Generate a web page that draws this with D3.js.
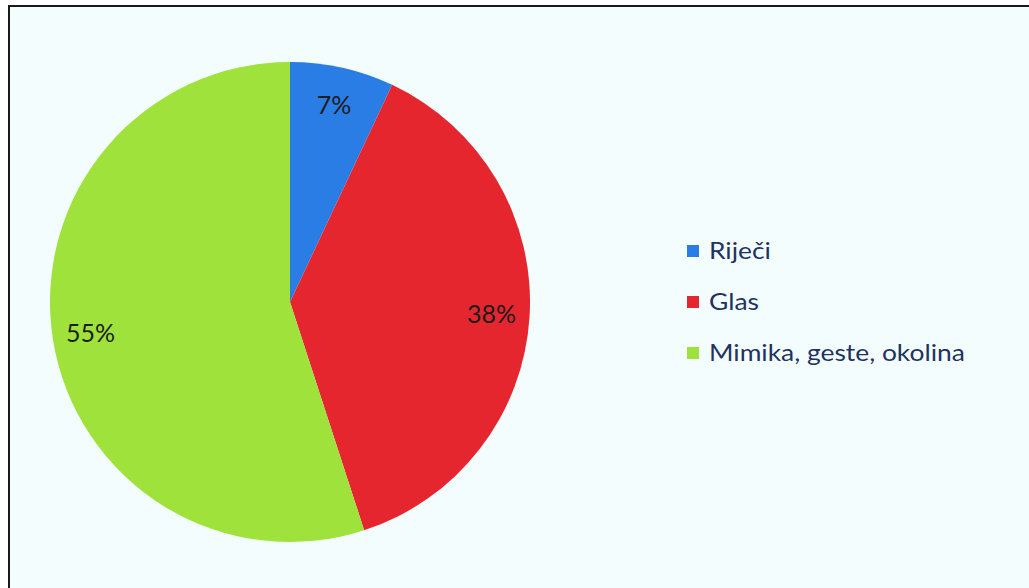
<!DOCTYPE html>
<html>
<head>
<meta charset="utf-8">
<script src="https://cdn.jsdelivr.net/npm/d3@7"></script>
<style>
  html, body { margin: 0; padding: 0; background: #ffffff; }
  svg { display: block; }
</style>
</head>
<body>
<div id="chart"></div>
<script>
let categories = ['Riječi', 'Glas', 'Mimika, geste, okolina']
let values = [7, 38, 55]
let colors = ['#2b7de6', '#e5262f', '#9ee23b']

let width = 1029
let height = 588

let svg = d3
  .select('#chart')
  .append('svg')
  .attr('width', width)
  .attr('height', height)

// chart area with border running off the right and bottom
svg
  .append('rect')
  .attr('x', 9)
  .attr('y', 6)
  .attr('width', width + 20)
  .attr('height', height + 20)
  .attr('fill', '#f4fdfe')
  .attr('stroke', '#1a1a1a')
  .attr('stroke-width', 2)

let radius = 240
let cx = 290
let cy = 302

let pie = d3.pie().sort(null).value(d => d)
let arcs = pie(values)

let arc = d3.arc().innerRadius(0).outerRadius(radius)
let labelArc = d3.arc().innerRadius(202).outerRadius(202)

let g = svg.append('g').attr('transform', `translate(${cx},${cy})`)

g.selectAll('.slice')
  .data(arcs)
  .enter()
  .append('path')
  .attr('class', 'slice')
  .attr('d', arc)
  .attr('fill', (d, i) => colors[i])

g.selectAll('.label')
  .data(arcs)
  .enter()
  .append('text')
  .attr('class', 'label')
  .attr('transform', d => `translate(${labelArc.centroid(d)})`)
  .attr('text-anchor', 'middle')
  .attr('dy', '0.35em')
  .attr('font-family', 'Lato, "Open Sans", sans-serif')
  .attr('font-size', 25)
  .attr('fill', '#1c1c1c')
  .text(d => d.data + '%')

// legend
let legendY = d3.scalePoint().domain(categories).range([251, 353])

let legend = svg
  .append('g')
  .selectAll('.legend')
  .data(categories)
  .enter()
  .append('g')
  .attr('class', 'legend')
  .attr('transform', d => `translate(687,${legendY(d)})`)

legend
  .append('rect')
  .attr('x', 0)
  .attr('y', -6)
  .attr('width', 12)
  .attr('height', 12)
  .attr('fill', (d, i) => colors[i])

// the legend text in the picture is a little stretched sideways
legend
  .append('text')
  .attr('transform', 'translate(22,0) scale(1.1,1)')
  .attr('dy', '0.35em')
  .attr('font-family', 'Lato, "Open Sans", sans-serif')
  .attr('font-size', 24)
  .attr('fill', '#1f3361')
  .text(d => d)
</script>
</body>
</html>
